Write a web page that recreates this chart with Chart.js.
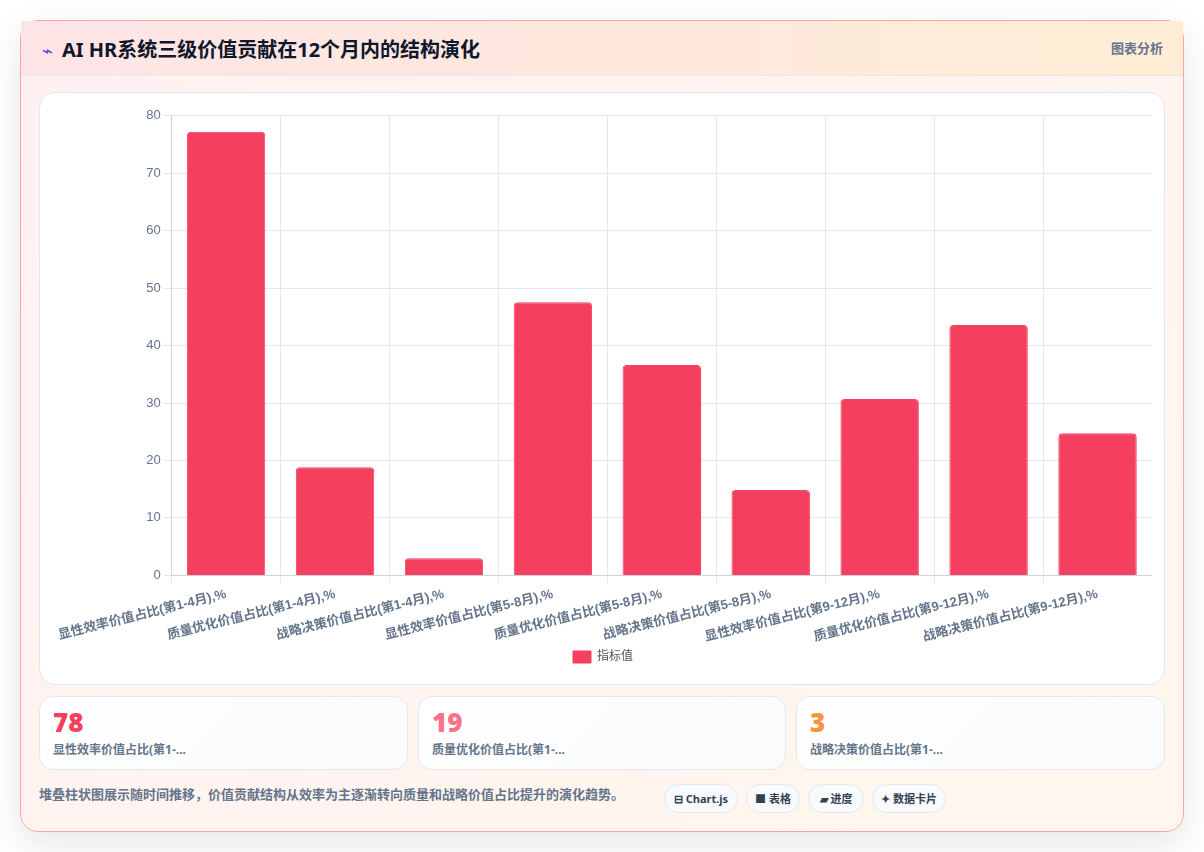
<!DOCTYPE html>
<html lang="zh">
<head>
<meta charset="utf-8">
<title>AI HR系统三级价值贡献</title>
<script src="https://cdn.jsdelivr.net/npm/chart.js@4/dist/chart.umd.min.js"></script>
<style>
*{box-sizing:border-box}
html,body{margin:0;height:100%;background:#fff;overflow:hidden}
body{width:1204px;height:852px;position:relative;font-family:"Noto Sans","Noto Sans CJK SC",sans-serif;color:#0f172a}
.card{position:absolute;left:20px;top:20px;width:1164px;height:812px;border:1px solid #f4a6ad;border-radius:18px;
 background:linear-gradient(135deg,#fff1f2,#fff7ed);box-shadow:0 12px 36px rgba(15,23,42,.1)}
.head{position:absolute;left:0;top:0;right:0;height:55px;background:linear-gradient(90deg,#ffe4e6,#ffedd5);border-bottom:1px solid #f1e4e6}
.head h1{position:absolute;left:21px;top:15px;margin:0;font-size:18px;line-height:28px;font-weight:700;color:#0f172a;white-space:nowrap}
.head h1 i{font-style:normal;font-weight:400;font-size:18px;color:#4f46e5;margin-right:9px;vertical-align:0}
.head h1 em{font-style:normal;font-size:20px}
.head span{position:absolute;right:20px;top:17px;font-size:13px;line-height:20px;font-weight:700;color:#64748b}
.panel{position:absolute;left:18px;top:71px;width:1126px;height:593px;background:#fff;border:1px solid #e2e8f0;border-radius:16px}
.box{position:absolute;left:14px;top:12px;width:1098px;height:568px}
.kpi{position:absolute;top:675px;height:74px;background:linear-gradient(135deg,#fff,#f8fafc);border:1px solid #e2e8f0;border-radius:14px;padding:10px 13px}
.kpi b{display:block;font-size:26px;line-height:30px;font-weight:900}
.kpi small{display:block;font-size:12px;line-height:17px;font-weight:700;color:#64748b;margin-top:4px}
.note{position:absolute;left:18px;top:763px;font-size:13px;line-height:20px;font-weight:700;color:#64748b;white-space:nowrap}
.tag{position:absolute;top:763px;height:29px;line-height:27px;border:1px solid #e2e8f0;border-radius:15px;background:#f8fafc;font-size:11px;font-weight:700;color:#334155;text-align:center;white-space:nowrap}
</style>
</head>
<body>
<div class="card">
  <div class="head"><h1><i>⌁</i><em>AI HR系统三级价值贡献在12个月内的结构演化</em></h1><span>图表分析</span></div>
  <div class="panel"><div class="box"><canvas id="c"></canvas></div></div>
  <div class="kpi" style="left:18px;width:369px"><b id="k0" style="color:#f43f5e"></b><small id="l0"></small></div>
  <div class="kpi" style="left:397px;width:368px"><b id="k1" style="color:#fb7185"></b><small id="l1"></small></div>
  <div class="kpi" style="left:775px;width:369px"><b id="k2" style="color:#fb923c"></b><small id="l2"></small></div>
  <div class="note">堆叠柱状图展示随时间推移，价值贡献结构从效率为主逐渐转向质量和战略价值占比提升的演化趋势。</div>
  <div class="tag" style="left:643px;width:74px">⊟ Chart.js</div>
  <div class="tag" style="left:725px;width:54px">■ 表格</div>
  <div class="tag" style="left:787px;width:56px">▰ 进度</div>
  <div class="tag" style="left:851px;width:74px">✦ 数据卡片</div>
</div>
<script>
// 各阶段三级价值占比
const categories = [
  '显性效率价值占比(第1-4月),%','质量优化价值占比(第1-4月),%','战略决策价值占比(第1-4月),%',
  '显性效率价值占比(第5-8月),%','质量优化价值占比(第5-8月),%','战略决策价值占比(第5-8月),%',
  '显性效率价值占比(第9-12月),%','质量优化价值占比(第9-12月),%','战略决策价值占比(第9-12月),%'
];
const seriesName = '指标值';
const values = [78, 19, 3, 48, 37, 15, 31, 44, 25];
const cardLabels = ['显性效率价值占比(第1-...','质量优化价值占比(第1-...','战略决策价值占比(第1-...'];

cardLabels.forEach((t, i) => {
  document.getElementById('k' + i).textContent = values[i];
  document.getElementById('l' + i).textContent = t;
});

const tickFont = '"Liberation Sans","Noto Sans CJK SC",sans-serif';
new Chart(document.getElementById('c'), {
  type: 'bar',
  data: { labels: categories, datasets: [{
    label: seriesName, data: values, yAxisID: 'bars',
    backgroundColor: '#f43f5e', borderColor: '#f43f5e', borderWidth: 1, borderRadius: 4
  }]},
  options: {
    responsive: true, maintainAspectRatio: false, animation: false,
    plugins: {
      legend: { position: 'bottom', labels: { padding: 3, font: { family: tickFont, size: 12 }, color: '#475569', boxWidth: 18, boxHeight: 12 } },
      tooltip: { enabled: false }
    },
    scales: {
      x: { border: { color: '#cbd5e1' }, grid: { color: '#e2e8f0' }, ticks: { color: '#64748b', maxRotation: 14, minRotation: 14, font: { family: tickFont, size: 13, weight: '700' } } },
      y: { min: 0, max: 80, border: { color: '#cbd5e1' }, grid: { color: '#e2e8f0' }, ticks: { stepSize: 10, color: '#64748b', font: { family: tickFont, size: 13 } } },
      // 柱子使用一条不显示的数值轴，上限略高于可见刻度
      bars: { display: false, min: 0, max: 80.8 }
    }
  }
});
</script>
</body>
</html>
